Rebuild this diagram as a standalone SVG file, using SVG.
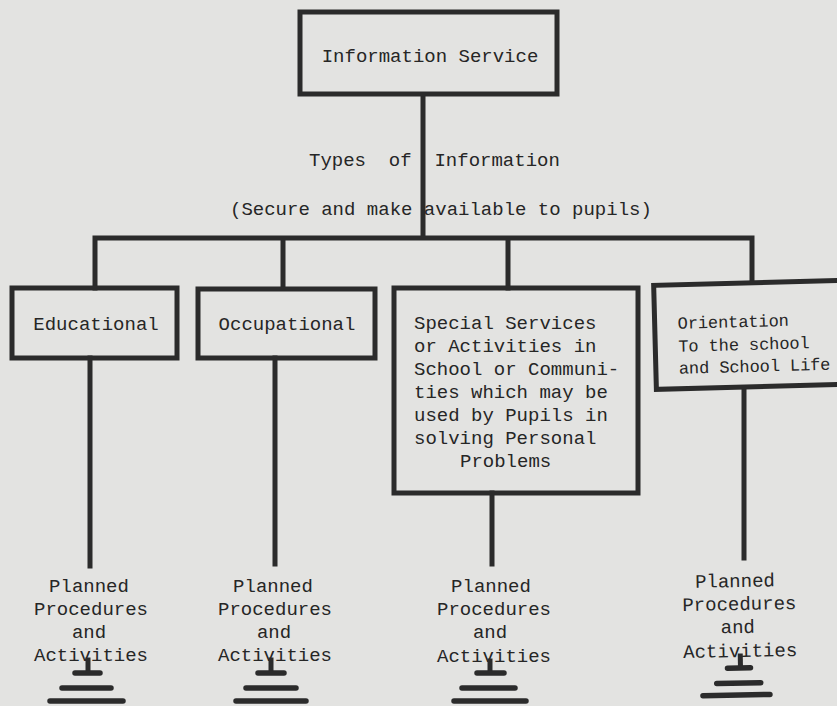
<svg xmlns="http://www.w3.org/2000/svg" width="837" height="706" viewBox="0 0 837 706">
<style>
.box{fill:none;stroke:#2b2b2b;stroke-width:5;stroke-linejoin:miter}
.ln{fill:none;stroke:#2b2b2b;stroke-width:5;stroke-linecap:square}
.gb{fill:none;stroke:#2b2b2b;stroke-width:5.5;stroke-linecap:round}
text{font-family:"Liberation Mono","DejaVu Sans Mono",monospace;font-size:19px;fill:#262626;white-space:pre}
.c{text-anchor:middle}
.o{font-size:17px;letter-spacing:-0.1px}
</style>
<rect width="837" height="706" fill="#e3e3e1"/>
<g id="connectors">
<path class="ln" d="M423,95 V238 M95,238 H752 M95,238 V288 M283,238 V288 M508,238 V288 M752,238 V282"/>
<path class="ln" d="M90,358 V566 M275,358 V564 M492,493 V564 M744,388 V558"/>
</g>
<g id="info-service">
<rect class="box" x="300" y="12" width="257" height="82"/>
<text class="c" x="430" y="62">Information Service</text>
</g>
<g id="types-label">
<text x="309" y="166">Types  of  Information</text>
<text x="230" y="215">(Secure and make available to pupils)</text>
</g>
<g id="educational">
<rect class="box" x="12" y="288" width="165" height="70"/>
<text class="c" x="96" y="330">Educational</text>
</g>
<g id="occupational">
<rect class="box" x="198" y="289" width="177" height="69"/>
<text class="c" x="287" y="330">Occupational</text>
</g>
<g id="special">
<rect class="box" x="394" y="288" width="244" height="205"/>
<text x="414" y="329">Special Services</text>
<text x="414" y="352">or Activities in</text>
<text x="414" y="375">School or Communi-</text>
<text x="414" y="398">ties which may be</text>
<text x="414" y="421">used by Pupils in</text>
<text x="414" y="444">solving Personal</text>
<text x="460" y="467">Problems</text>
</g>
<g id="orientation" transform="rotate(-1.5 745 335)">
<rect class="box" x="655" y="283" width="190" height="104"/>
<text class="o" x="678" y="327">Orientation</text>
<text class="o" x="678" y="350">To the school</text>
<text class="o" x="678" y="372">and School Life</text>
</g>
<g id="activities-1">
<text class="c" x="89" y="592">Planned</text>
<text class="c" x="91" y="615">Procedures</text>
<text class="c" x="89" y="638">and</text>
<text class="c" x="91" y="661">Activities</text>
<path class="ln" d="M88,660 V671"/>
<path class="gb" d="M75,673 H100 M62,688 H111 M50,701 H123"/>
</g>
<g id="activities-2">
<text class="c" x="273" y="592">Planned</text>
<text class="c" x="275" y="615">Procedures</text>
<text class="c" x="274" y="638">and</text>
<text class="c" x="275" y="661">Activities</text>
<path class="ln" d="M271,660 V671"/>
<path class="gb" d="M258,673 H284 M246,688 H296 M236,701 H306"/>
</g>
<g id="activities-3">
<text class="c" x="491" y="592">Planned</text>
<text class="c" x="494" y="615">Procedures</text>
<text class="c" x="490" y="638">and</text>
<text class="c" x="494" y="662">Activities</text>
<path class="ln" d="M490,661 V671"/>
<path class="gb" d="M477,673 H504 M462,688 H515 M454,701 H526"/>
</g>
<g id="activities-4" transform="rotate(-1 740 640)">
<text class="c" x="736" y="587">Planned</text>
<text class="c" x="740" y="610">Procedures</text>
<text class="c" x="738" y="633">and</text>
<text class="c" x="740" y="657">Activities</text>
<path class="ln" d="M740,656 V666"/>
<path class="gb" d="M727,668 H750 M716,683 H760 M702,695 H769"/>
</g>
</svg>
